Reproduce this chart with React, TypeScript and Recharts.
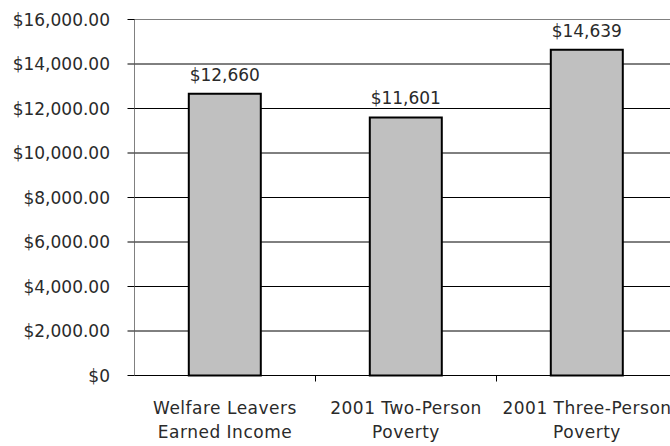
import React from 'react';
import {
  BarChart,
  Bar,
  XAxis,
  YAxis,
  CartesianGrid,
  ReferenceLine,
  LabelList,
} from 'recharts';

const categories = [
  'Welfare Leavers\nEarned Income',
  '2001 Two-Person\nPoverty',
  '2001 Three-Person\nPoverty',
];
const incomeValues = [12660, 11601, 14639];
const yTicks = [0, 2000, 4000, 6000, 8000, 10000, 12000, 14000, 16000];
const yTickLabels = [
  '$0',
  '$2,000.00',
  '$4,000.00',
  '$6,000.00',
  '$8,000.00',
  '$10,000.00',
  '$12,000.00',
  '$14,000.00',
  '$16,000.00',
];

const data = categories.map((c, i) => ({ category: c, value: incomeValues[i] }));

const FONT = '"DejaVu Sans", "Liberation Sans", Arial, sans-serif';
const TEXT = '#2a2a2a';

function CategoryTick(props: any) {
  const { x, y, payload } = props;
  const lines = String(payload.value).split('\n');
  const half = payload.offset ?? 0;
  return (
    <g>
      <line x1={x + half} x2={x + half} y1={y} y2={y + 6} stroke="#000" strokeWidth={1} />
      <text
        x={x}
        y={y}
        textAnchor="middle"
        fontFamily={FONT}
        fontSize={17}
        letterSpacing={0.5}
        fill={TEXT}
      >
        {lines.map((l, i) => (
          <tspan key={i} x={x} y={y + 38.5 + i * 24}>
            {l}
          </tspan>
        ))}
      </text>
    </g>
  );
}

const fmtValue = (v: any) => '$' + Number(v).toLocaleString('en-US');
const fmtTick = (v: any) => {
  const idx = yTicks.indexOf(Number(v));
  return idx >= 0 ? yTickLabels[idx] : String(v);
};

export default function App() {
  return (
    <div
      style={{
        position: 'fixed',
        left: 0,
        top: 0,
        width: 670,
        height: 446,
        overflow: 'hidden',
        background: '#fff',
      }}
    >
      <BarChart
        width={690}
        height={446}
        data={data}
        margin={{ top: 19.5, right: 12.5, bottom: 0, left: 0 }}
        barCategoryGap="30%"
      >
        <CartesianGrid vertical={false} stroke="#000" strokeWidth={1} />
        <XAxis
          dataKey="category"
          interval={0}
          height={70.5}
          tickLine={false}
          tickSize={0}
          tickMargin={0}
          axisLine={{ stroke: '#000', strokeWidth: 1 }}
          tick={<CategoryTick />}
        />
        <YAxis
          width={134.5}
          domain={[0, 16000]}
          ticks={yTicks}
          interval={0}
          tickFormatter={fmtTick}
          tickSize={7}
          tickMargin={17.5}
          tickLine={{ stroke: '#000', strokeWidth: 1 }}
          axisLine={{ stroke: '#808080', strokeWidth: 1 }}
          tick={{ fontFamily: FONT, fontSize: 17, fill: TEXT }}
        />
        <ReferenceLine y={16000} stroke="#808080" strokeWidth={1} />
        <Bar
          dataKey="value"
          fill="#C0C0C0"
          stroke="#000"
          strokeWidth={2}
          isAnimationActive={false}
        >
          <LabelList
            dataKey="value"
            position="top"
            offset={13}
            formatter={fmtValue}
            style={{ fontFamily: FONT, fontSize: 17, fill: TEXT }}
          />
        </Bar>
      </BarChart>
    </div>
  );
}
